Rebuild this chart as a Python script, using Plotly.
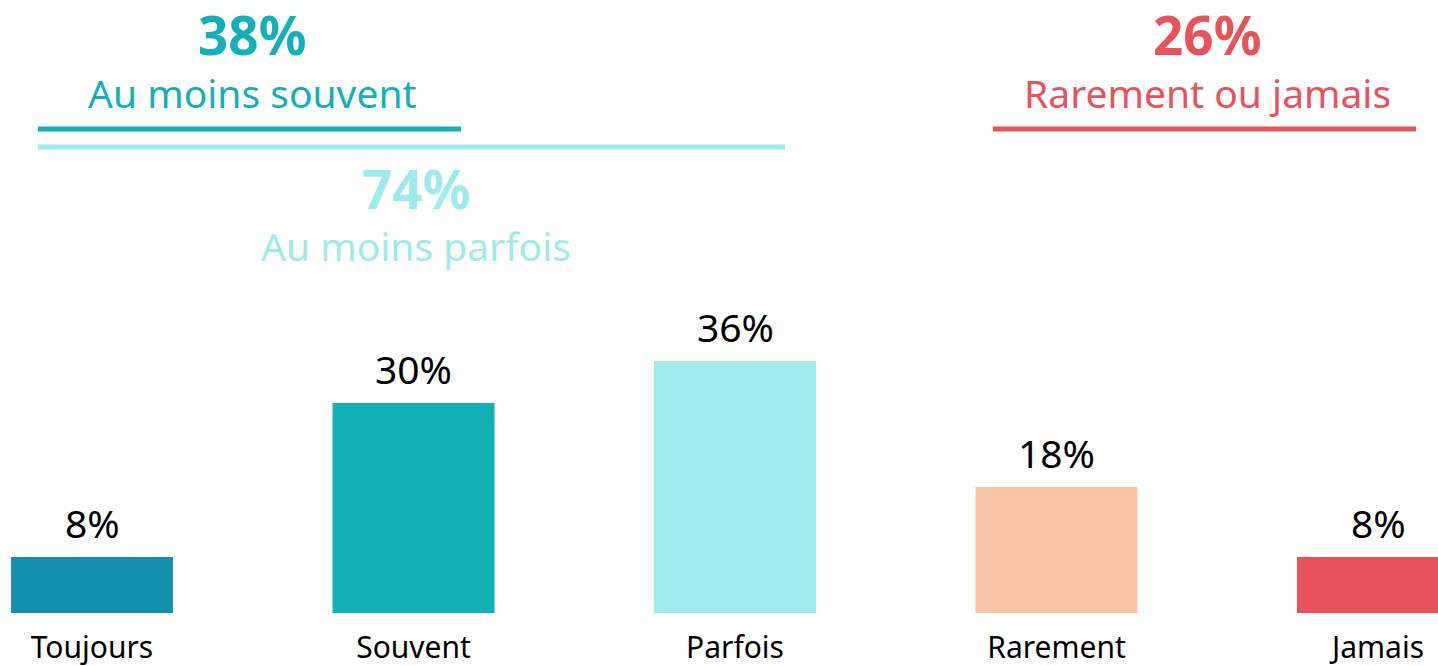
import plotly.graph_objects as go

# survey answers
categories = ["Toujours", "Souvent", "Parfois", "Rarement", "Jamais"]
values = [8, 30, 36, 18, 8]
bar_colors = ["#148FAE", "#13B0B7", "#9DEBEA", "#F7C4A5", "#E8535B"]

# grouped totals shown at the top
group_values = [38, 74, 26]
group_labels = ["Au moins souvent", "Au moins parfois", "Rarement ou jamais"]
group_colors = ["#13B0B7", "#9DEBEA", "#E8535B"]

W, H = 1438, 666
PLOT_H = 613
FONT = "Noto Sans"


def py(p):
    # pixel row -> paper y
    return 1 - p / PLOT_H


def px_(p):
    return p / W


fig = go.Figure()
fig.add_trace(go.Bar(
    x=categories, y=values,
    marker=dict(color=bar_colors, line=dict(width=0)),
    width=0.504,
    hoverinfo="skip",
))

# value labels above bars
for c, v in zip(categories, values):
    fig.add_annotation(x=c, y=v, text=f"{v}%", showarrow=False,
                       yanchor="middle", yshift=35,
                       font=dict(family=FONT, size=39, color="#000000"))

# group headers: (center x px, value y px, label y px)
header_pos = [(252, 34, 92), (416, 188, 245), (1207, 34, 92)]
for (cx, vy, ly), gv, gl, gc in zip(header_pos, group_values, group_labels, group_colors):
    fig.add_annotation(x=px_(cx), y=py(vy), xref="paper", yref="paper",
                       text=f"<b>{gv}%</b>", showarrow=False,
                       xanchor="center", yanchor="middle",
                       font=dict(family=FONT, size=53, color=gc))
    fig.add_annotation(x=px_(cx), y=py(ly), xref="paper", yref="paper",
                       text=gl, showarrow=False,
                       xanchor="center", yanchor="middle",
                       font=dict(family=FONT, size=39, color=gc))

# bracket lines: (x0, x1, y) in px
lines = [(38, 461, 129, "#13B0B7"), (38, 785, 147, "#9DEBEA"), (993, 1416, 129, "#E8535B")]
for x0, x1, y, col in lines:
    fig.add_shape(type="line", xref="paper", yref="paper",
                  x0=px_(x0), x1=px_(x1), y0=py(y), y1=py(y),
                  line=dict(color=col, width=5))

fig.update_layout(
    width=W, height=H,
    margin=dict(l=0, r=0, t=0, b=H - PLOT_H, pad=0, autoexpand=False),
    plot_bgcolor="white", paper_bgcolor="white",
    showlegend=False,
    xaxis=dict(range=[-92 / 321.5, (W - 92) / 321.5], showgrid=False,
               zeroline=False, showline=False, ticks="", ticklabelstandoff=14,
               automargin=False,
               tickfont=dict(family=FONT, size=30, color="#000000")),
    yaxis=dict(range=[0, PLOT_H / 7], visible=False),
)

# drop the default page margin so the figure fills the window
fig.write_html("out.html", config={"displayModeBar": False},
               post_script="document.body.style.margin = '0';")
